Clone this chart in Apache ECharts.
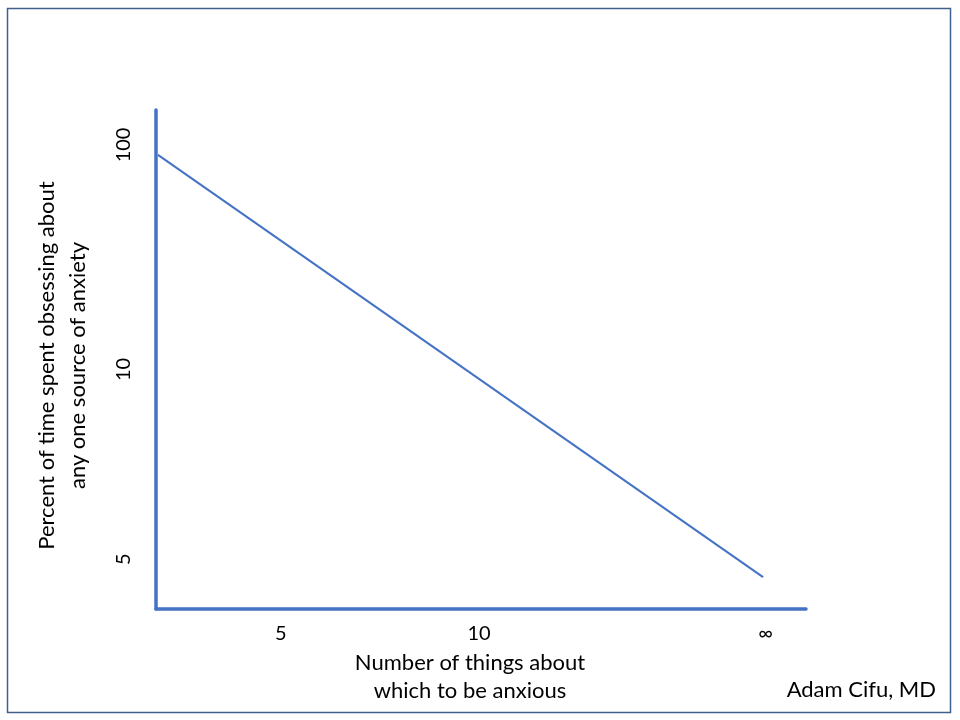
<!DOCTYPE html>
<html><head><meta charset="utf-8">
<script src="https://cdn.jsdelivr.net/npm/echarts@6/dist/echarts.min.js"></script>
<style>html,body{margin:0;padding:0;background:#fff}#c{width:960px;height:720px}</style>
</head><body><div id="c"></div>
<script>
// Conceptual chart: positions on a 0-100 abstract scale
const xTickValues = [19.2, 49.7, 93.8];
const xTickLabels = ['5', '10', '∞'];
const yTickValues = [93, 48, 10];
const yTickLabels = ['100', '10', '5'];
const lineX = [0.3, 93.4];
const lineY = [91, 6.4];
const xName = 'Number of things about\nwhich to be anxious';
const yName = 'Percent of time spent obsessing about\nany one source of anxiety';
const credit = 'Adam Cifu, MD';

const FONT = 'Lato';
const chart = echarts.init(document.getElementById('c'));
const xMap = {}; xTickValues.forEach((v,i)=>xMap[v]=xTickLabels[i]);
const yMap = {}; yTickValues.forEach((v,i)=>yMap[v]=yTickLabels[i]);
chart.setOption({
  animation:false,
  backgroundColor:'#fff',
  grid:{left:156,right:154,top:110,bottom:111},
  xAxis:{type:'value',min:0,max:100,
    axisLine:{show:true,lineStyle:{color:'#4472C4',width:3.5}},
    axisTick:{show:false},splitLine:{show:false},
    axisLabel:{customValues:xTickValues,formatter:v=>xMap[v]||'',color:'#000',fontSize:20,fontFamily:FONT,margin:15},
    name:xName,nameLocation:'middle',nameGap:38,
    nameTextStyle:{color:'#000',fontSize:22,fontFamily:FONT,lineHeight:28,padding:[0,22,0,0]}
  },
  yAxis:{type:'value',min:0,max:100,
    axisLine:{show:true,lineStyle:{color:'#4472C4',width:3.5}},
    axisTick:{show:false},splitLine:{show:false},
    axisLabel:{customValues:yTickValues,formatter:v=>yMap[v]||'',rotate:90,color:'#000',fontSize:20,fontFamily:FONT,margin:22},
    name:yName,nameLocation:'middle',nameGap:63,nameRotate:90,
    nameTextStyle:{color:'#000',fontSize:22,fontFamily:FONT,lineHeight:31,padding:[0,12,0,0]}
  },
  series:[{type:'line',data:lineX.map((x,i)=>[x,lineY[i]]),showSymbol:false,
    lineStyle:{color:'#4472C4',width:2}}],
  graphic:[
    {type:'rect',shape:{x:7.5,y:8.5,width:943,height:704},style:{fill:'none',stroke:'#3F5F8C',lineWidth:1.5},silent:true},
    {type:'text',right:24,top:679,style:{text:credit,fill:'#000',font:'22px '+FONT}}
  ]
});
</script></body></html>
